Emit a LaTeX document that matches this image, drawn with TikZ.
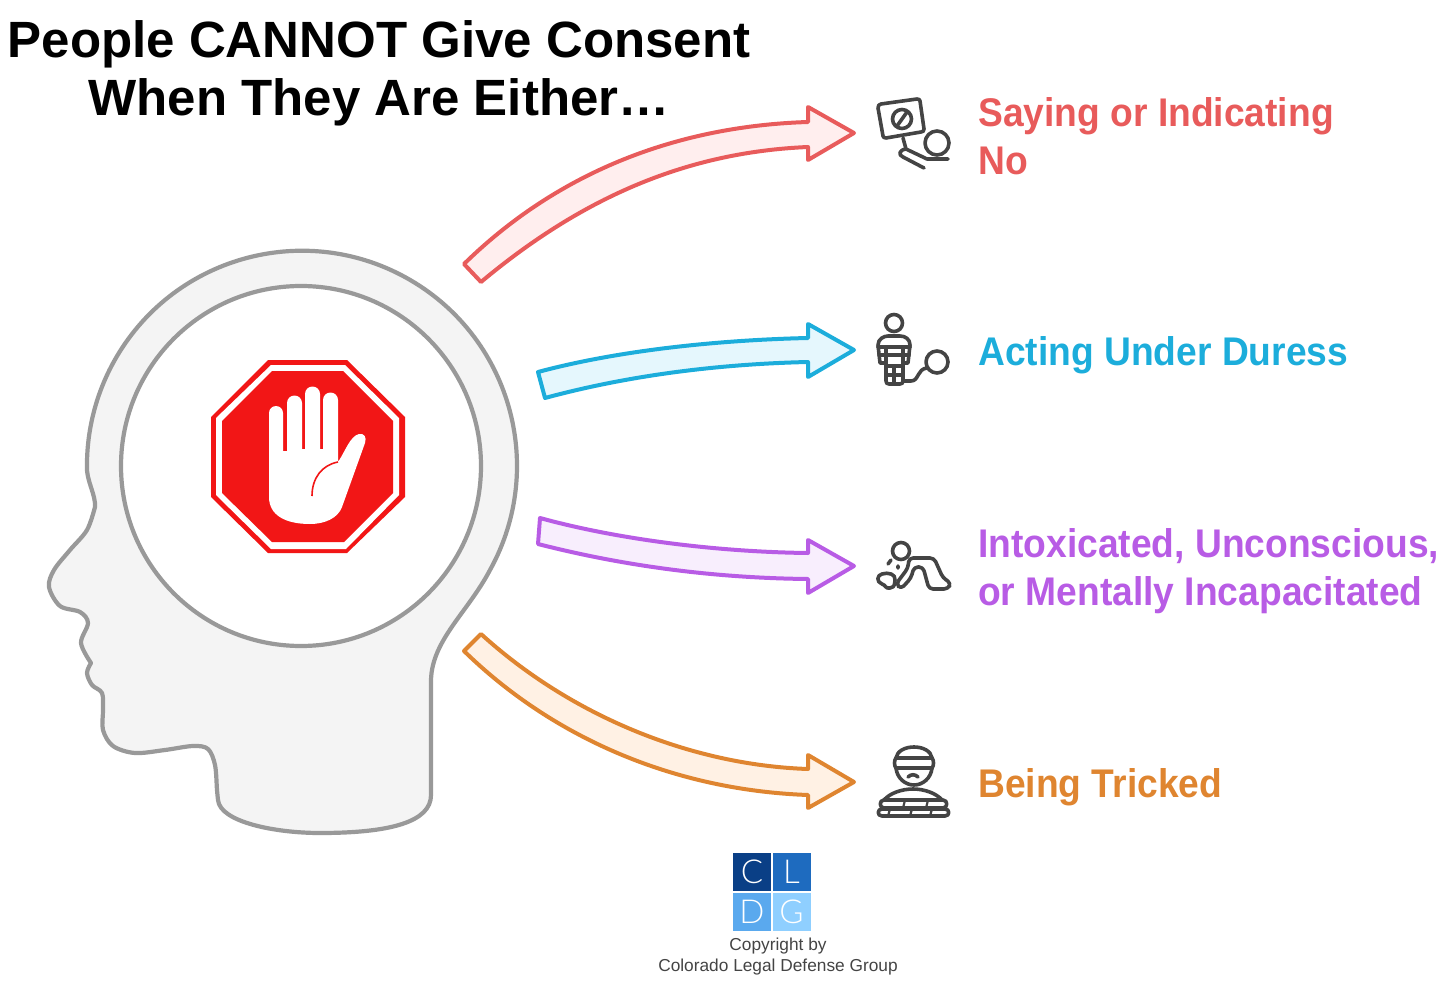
\documentclass[tikz,border=0pt]{standalone}
\usepackage{fontspec}
\setmainfont{Liberation Sans}
\newfontfamily\labelfont[FakeStretch=0.93]{Liberation Sans}
\newfontfamily\logofont[UprightFont={* Light}]{Lato}
\definecolor{headgray}{HTML}{999999}
\definecolor{headfill}{HTML}{F4F4F4}
\definecolor{stopred}{HTML}{F21616}
\definecolor{icongray}{HTML}{444444}
\definecolor{nored}{HTML}{E85B5B}
\definecolor{nofill}{HTML}{FFEEEE}
\definecolor{duressblue}{HTML}{1CADDB}
\definecolor{duressfill}{HTML}{E5F7FD}
\definecolor{intoxpurple}{HTML}{B85CE5}
\definecolor{intoxfill}{HTML}{F8EEFD}
\definecolor{trickorange}{HTML}{DF8530}
\definecolor{trickfill}{HTML}{FFF1E4}
\definecolor{logoa}{HTML}{0A3F86}
\definecolor{logob}{HTML}{1E6BBF}
\definecolor{logoc}{HTML}{5AA9EE}
\definecolor{logod}{HTML}{8FCFFF}
\begin{document}
\begin{tikzpicture}[x=1pt, y=-1pt,
    title text/.style={font=\fontsize{51}{58}\selectfont\bfseries, align=center},
    item text/.style={font=\fontsize{40}{48}\selectfont\labelfont\bfseries, align=left, anchor=west, inner sep=0pt},
    credit text/.style={font=\fontsize{17.3}{21.5}\selectfont, text=icongray, align=center},
    logo box/.style={minimum width=38pt, minimum height=38pt, inner sep=0pt, text=white,
        font=\fontsize{33}{33}\selectfont\logofont},
    block arrow/.style={line width=4pt, line join=round},
    icon/.style={draw=icongray, line width=3.6pt, line cap=round, line join=round},
    head line/.style={draw=headgray, line width=4.2pt, line join=round}]

\useasboundingbox (0,0) rectangle (1447,981);

\node[title text](title) at (379,73) {People CANNOT Give Consent\\When They Are Either\dots};

% head
\draw[head line, fill=headfill] (490,570) arc[start angle=29, end angle=-180, radius=215]
    .. controls (86,480) and (96,495) .. (95,507)
    -- plot[smooth, tension=0.55] coordinates {(95,507) (87,530) (70,550) (54,570) (49,587)
        (60,606) (80,612) (88,623) (81,643) (91,663)}
    -- plot[smooth, tension=0.55] coordinates {(91,663) (87,673) (92,685) (102,693) (103,710) (103,730) (113,746) (135,753)
        (165,750) (193,746) (208,749) (215,765) (217,790) (218,800)}
    .. controls (220,822) and (275,833) .. (320,833) .. controls (390,833) and (431,822) .. (431,795)
    -- (431,680) .. controls (432,640) and (468,612) .. (490,570) -- cycle;
\draw[head line, fill=white] (301,466) circle[radius=180];

% stop sign
\fill[stopred] (268,360) -- (347,360) -- (405,417) -- (405,497) -- (347,553) -- (268,553) -- (211,497) -- (211,417) -- cycle;
\fill[white] (271,365) -- (345,365) -- (399,418) -- (399,495) -- (346,549) -- (271,549) -- (216,495) -- (216,418) -- cycle;
\fill[stopred] (272,371) -- (343,371) -- (393,421) -- (393,493) -- (344,542) -- (272,542) -- (222,493) -- (222,421) -- cycle;
\fill[white] (269,497) -- (269,413) arc[start angle=180, end angle=360, radius=7] -- (283,451) -- (287,451)
    -- (287,403) arc[start angle=180, end angle=360, radius=7.5] -- (302,449) -- (305,449)
    -- (305,394) arc[start angle=180, end angle=360, radius=7.5] -- (320,449) -- (323,449)
    -- (323,400) arc[start angle=180, end angle=360, radius=7.5] -- (338,462)
    .. controls (345,452) and (350,436) .. (359,434) .. controls (364,433) and (367,437) .. (365,443)
    -- (342,507) .. controls (338,518) and (325,524) .. (310,524) .. controls (285,524) and (269,515) .. (269,497) -- cycle;
\draw[stopred, line width=1.6pt] (312,496) .. controls (312,478) and (322,465) .. (338,462);

% arrows
\draw[block arrow, draw=nored, fill=nofill] (464,264) .. controls (560,170) and (680,126) .. (808,122) -- (808,107) -- (854,133)
    -- (808,160) -- (808,147) .. controls (690,152) and (585,195) .. (481,282) -- cycle;
\draw[block arrow, draw=duressblue, fill=duressfill] (538,372) .. controls (620,350) and (720,340) .. (808,338) -- (808,324) -- (854,350)
    -- (808,377) -- (808,362) .. controls (720,364) and (630,375) .. (545,398) -- cycle;
\draw[block arrow, draw=intoxpurple, fill=intoxfill] (540,518) .. controls (620,540) and (720,552) .. (808,553) -- (808,540) -- (854,566)
    -- (808,593) -- (808,579) .. controls (710,578) and (620,565) .. (538,544) -- cycle;
\draw[block arrow, draw=trickorange, fill=trickfill] (481,634) .. controls (570,715) and (690,765) .. (808,769) -- (808,755) -- (854,782)
    -- (808,808) -- (808,795) .. controls (670,790) and (550,735) .. (464,651) -- cycle;

% icons
\draw[icon] (881,104) -- (917,99) .. controls (919,99) and (920,100) .. (920,101) -- (924,129) .. controls (924,131) and (923,132) .. (921,132)
    -- (886,138) .. controls (884,138) and (883,137) .. (883,136) -- (878,108) .. controls (878,106) and (879,104) .. (881,104) -- cycle;
\draw[icon] (902,119) circle[radius=9.5] (897,126) -- (907,112);
\draw[icon] (903,138) -- (906,149) -- (927,159) -- (948,159);
\draw[icon] (906,149) .. controls (899,150) and (898,155) .. (903,157) -- (924,168);
\draw[icon] (937,143) circle[radius=12];

\draw[icon] (894,323) circle[radius=8.5];
\draw[icon] (886,363) -- (880,363) -- (878,345) .. controls (878,339) and (884,336) .. (888,336) -- (900,336) .. controls (905,336) and (910,339) .. (910,345) -- (908,363) -- (903,363)
    -- (903,381) .. controls (903,383) and (902,384) .. (900,384) -- (889,384) .. controls (887,384) and (886,383) .. (886,381) -- cycle;
\draw[icon] (878,347) -- (910,347) (879,355) -- (909,355) (886,366) -- (903,366) (886,375) -- (903,375)
    (886,347) -- (886,363) (903,347) -- (903,363) (894,366) -- (894,384);
\draw[icon] (903,381) -- (911,381) .. controls (919,381) and (917,369) .. (927,368);
\draw[icon] (937,362) circle[radius=11];

\draw[icon] (901,551) circle[radius=8.5];
\draw[icon] (888,564) -- (891,560) (898,566) -- (898,568);
\draw[icon] (882,574) .. controls (888,572) and (896,574) .. (895,580) .. controls (894,583) and (896,587) .. (890,588)
    .. controls (885,589) and (886,585) .. (882,584) .. controls (876,582) and (877,575) .. (882,574) -- cycle;
\draw[icon, rounded corners=4pt] (908,568) -- (909,558) -- (934,558) -- (943,578) -- (951,583) -- (948,589) -- (929,589)
    -- (923,567) -- (914,567) -- (911,578) -- (901,589) -- (896,584) -- cycle;

\draw[icon] (896,758) .. controls (897,751) and (905,747) .. (914,747) .. controls (923,747) and (931,751) .. (932,758)
    .. controls (934,760) and (934,766) .. (932,768) .. controls (931,778) and (923,785) .. (914,785) .. controls (905,785) and (897,778) .. (896,768)
    .. controls (894,766) and (894,760) .. (896,758) -- cycle;
\draw[icon] (896,758) -- (932,758) (896,768) -- (932,768);
\draw[icon] (908,777) .. controls (911,774) and (915,774) .. (918,777);
\draw[icon] (884,800) .. controls (890,793) and (902,789) .. (913,789) .. controls (924,789) and (936,793) .. (942,800);
\draw[icon] (884,800) -- (943,800) .. controls (948,800) and (948,808) .. (943,808) -- (884,808) .. controls (879,808) and (879,800) .. (884,800) -- cycle;
\draw[icon] (882,809) -- (945,809) .. controls (950,809) and (950,816) .. (945,816) -- (882,816) .. controls (877,816) and (877,809) .. (882,809) -- cycle;
\draw[icon, line width=2.2pt] (905,800) -- (903,808) (928,800) -- (926,808) (890,809) -- (888,816) (912,809) -- (910,816) (932,809) -- (930,816);

% labels
\node[item text, text=nored](no label) at (978,136.5) {Saying or Indicating\\No};
\node[item text, text=duressblue](duress label) at (978,355) {Acting Under Duress};
\node[item text, text=intoxpurple](intox label) at (978,571) {Intoxicated, Unconscious,\\or Mentally Incapacitated};
\node[item text, text=trickorange](trick label) at (978,787) {Being Tricked};

% logo
\node[logo box, fill=logoa](logo c) at (752,872) {C};
\node[logo box, fill=logob](logo l) at (791.5,872) {L};
\node[logo box, fill=logoc](logo d) at (752,911.5) {D};
\node[logo box, fill=logod](logo g) at (791.5,911.5) {G};
\node[credit text](credit) at (778,956.5) {Copyright by\\Colorado Legal Defense Group};

\end{tikzpicture}
\end{document}
